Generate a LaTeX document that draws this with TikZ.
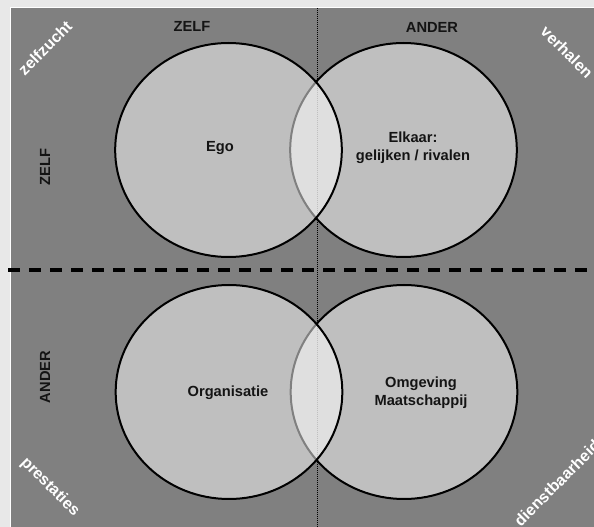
\documentclass[tikz,border=0pt]{standalone}
\usepackage{fontspec}
\setmainfont{Liberation Sans}
\usetikzlibrary{shapes.geometric, positioning}
\definecolor{panelgray}{HTML}{808080}
\definecolor{outergray}{HTML}{E8E8E8}
\definecolor{inkblack}{HTML}{141414}
\tikzset{
    bubble/.style={ellipse, draw=black, line width=1.5pt, fill=white, fill opacity=0.5, minimum width=170pt, minimum height=160.5pt, inner sep=0pt},
    headtext/.style={font=\bfseries\fontsize{11}{13.5}\selectfont, text=inkblack, align=center, inner sep=0pt},
    cornertext/.style={font=\bfseries\fontsize{12}{14}\selectfont, text=white, inner sep=0pt},
    divider/.style={line width=2.5pt, dash pattern=on 9pt off 6.75pt},
    axisline/.style={line width=0.75pt, dash pattern=on 0.75pt off 0.75pt}
}
\begin{document}
\begin{tikzpicture}[x=0.75pt, y=-0.75pt]
    % frame
    \clip (0,0) rectangle (594,527);
    \fill[outergray] (0,0) rectangle (594,527);
    \draw[white, fill=panelgray, line width=0.75pt] (10,8) rectangle (600,533);

    % axes
    \coordinate (axtop) at (317,8);
    \coordinate (axbot) at (317,527);
    \draw[axisline] (axtop) -- (axbot);
    \coordinate (divleft) at (8,270);
    \coordinate (divright) at (594,270);
    \draw[divider] (divleft) -- (divright);

    % circles
    \node[bubble] (elkaar) at (403.5,150) {};
    \node[bubble] (ego) at (228.5,150) {};
    \node[bubble] (omgeving) at (404,392) {};
    \node[bubble] (organisatie) at (229,392) {};

    % circle texts
    \node[headtext] (ego_text) at (220,148) {Ego};
    \node[headtext] (elkaar_text) at (413,148) {Elkaar:\\gelijken / rivalen};
    \node[headtext] (organisatie_text) at (228,393) {Organisatie};
    \node[headtext] (omgeving_text) at (421,392.5) {Omgeving\\Maatschappij};

    % headers
    \node[headtext] (zelf_top) at (192,26) {ZELF};
    \node[headtext] (ander_top) at (432,27) {ANDER};
    \node[headtext, rotate=90] (zelf_side) at (45,167) {ZELF};
    \node[headtext, rotate=90] (ander_side) at (45,377) {ANDER};

    % corners
    \node[cornertext, rotate=45] (zelfzucht) at (45,48) {zelfzucht};
    \node[cornertext, rotate=-45] (verhalen) at (567,52) {verhalen};
    \node[cornertext, rotate=-45] (prestaties) at (50,487) {prestaties};
    \node[cornertext, rotate=45] (dienstbaarheid) at (557,483) {dienstbaarheid};
\end{tikzpicture}
\end{document}
